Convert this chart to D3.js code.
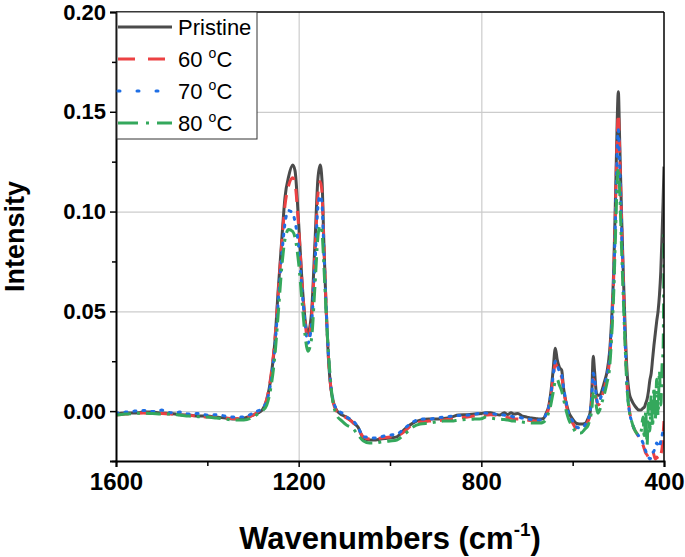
<!DOCTYPE html>
<html>
<head>
<meta charset="utf-8">
<script src="https://d3js.org/d3.v7.min.js"></script>
<style>
  body { margin: 0; background: #fff; }
  text { font-family: "Liberation Sans", Arial, sans-serif; }
</style>
</head>
<body>
<svg id="chart" width="685" height="557"></svg>
<script>
  // wavenumbers in cm-1 (descending, as plotted)
  let wavenumbers = [
    1600, 1580, 1560, 1540, 1520, 1500, 1480, 1460, 1440, 1420,
    1400, 1380, 1360, 1340, 1320, 1300, 1290, 1280, 1270, 1260,
    1252, 1245, 1237, 1230, 1222, 1213, 1208, 1200, 1193, 1186,
    1180, 1172, 1164, 1158, 1153, 1149, 1145, 1140, 1135, 1128,
    1117, 1105, 1095, 1080, 1070, 1058, 1045, 1035, 1020, 1000,
    985, 970, 950, 934, 915, 900, 883, 865, 850, 830,
    815, 800, 790, 780, 770, 760, 750, 742, 735, 728,
    720, 710, 700, 690, 680, 672, 664, 658, 653, 648,
    643, 638, 634, 629, 624, 620, 614, 609, 600, 591,
    582, 573, 566, 562, 558, 555, 552, 548, 545, 540,
    535, 530, 525, 519, 514, 510, 507, 504, 500, 497,
    493, 489, 485, 481, 476, 471, 465, 460, 455, 450,
    446, 443, 440, 437, 434, 431, 428, 425, 422, 419,
    416, 413, 410, 407, 404, 402, 400
  ];

  let pristine = [
    -0.0015, -0.001, -0.001, -0.0005, -0.0005, -0.001, -0.0012, -0.0018, -0.002, -0.0025,
    -0.0025, -0.003, -0.0035, -0.004, -0.0035, -0.002, -0.001, 0.0005, 0.0055, 0.018,
    0.035, 0.06, 0.086, 0.107, 0.1175, 0.1233, 0.1205, 0.094, 0.066, 0.046,
    0.039, 0.049, 0.086, 0.116, 0.1233, 0.116, 0.086, 0.052, 0.027, 0.009,
    0.0005, -0.002, -0.003, -0.006, -0.008, -0.0137, -0.0145, -0.0145, -0.014, -0.0135,
    -0.0129, -0.0095, -0.006, -0.0045, -0.004, -0.004, -0.0037, -0.003, -0.002, -0.0018,
    -0.0015, -0.0012, -0.0008, -0.0008, -0.0015, -0.002, -0.0008, -0.0017, -0.0008, -0.0015,
    -0.0012, -0.0025, -0.003, -0.0035, -0.0038, -0.004, -0.0037, -0.001, 0.002, 0.009,
    0.02, 0.0315, 0.026, 0.022, 0.0205, 0.0115, 0.004, -0.0003, -0.004, -0.0062,
    -0.0065, -0.0062, -0.0035, -0.001, 0.01, 0.0275, 0.02, 0.009, 0.008, 0.008,
    0.011, 0.015, 0.0195, 0.03, 0.049, 0.072, 0.099, 0.13, 0.16, 0.135,
    0.099, 0.068, 0.041, 0.02, 0.009, 0.0055, 0.003, 0.0015, 0.0005, 0.0005,
    0.0015, 0.002, 0.004, 0.006, 0.01, 0.0155, 0.019, 0.026, 0.033, 0.039,
    0.045, 0.05, 0.058, 0.07, 0.09, 0.105, 0.1225
  ];

  let t60 = [
    -0.002, -0.0015, -0.0012, -0.001, -0.0012, -0.0012, -0.0015, -0.002, -0.0022, -0.0025,
    -0.003, -0.003, -0.0035, -0.0038, -0.0035, -0.002, -0.0005, 0.001, 0.006, 0.019,
    0.036, 0.058, 0.084, 0.103, 0.113, 0.117, 0.114, 0.092, 0.066, 0.045,
    0.036, 0.046, 0.08, 0.108, 0.115, 0.11, 0.085, 0.053, 0.028, 0.009,
    0.0, -0.002, -0.0035, -0.006, -0.009, -0.013, -0.014, -0.014, -0.0135, -0.013,
    -0.0125, -0.0105, -0.0065, -0.0055, -0.005, -0.0048, -0.0045, -0.004, -0.0035, -0.003,
    -0.0025, -0.0022, -0.002, -0.0018, -0.002, -0.0025, -0.003, -0.0032, -0.0035, -0.0038,
    -0.004, -0.0042, -0.0045, -0.0048, -0.005, -0.005, -0.0042, -0.002, 0.001, 0.007,
    0.016, 0.024, 0.022, 0.019, 0.017, 0.011, 0.003, -0.002, -0.006, -0.009,
    -0.0095, -0.008, -0.005, -0.002, 0.006, 0.016, 0.014, 0.006, 0.003, 0.004,
    0.008, 0.012, 0.017, 0.026, 0.045, 0.068, 0.094, 0.125, 0.149, 0.13,
    0.096, 0.064, 0.036, 0.014, 0.001, -0.005, -0.009, -0.011, -0.013, -0.015,
    -0.017, -0.019, -0.021, -0.022, -0.023, -0.023, -0.022, -0.02, -0.022, -0.024,
    -0.023, -0.024, -0.0245, -0.022, -0.018, -0.012, -0.005
  ];

  let t70 = [
    -0.001, -0.0005, 0.0, 0.0003, -0.0002, 0.0005, -0.0008, -0.0005, -0.0015, -0.0012,
    -0.002, -0.0018, -0.0025, -0.003, -0.003, -0.001, 0.0, 0.0015, 0.005, 0.016,
    0.032, 0.054, 0.078, 0.094, 0.1005, 0.099, 0.095, 0.082, 0.062, 0.044,
    0.034, 0.043, 0.075, 0.102, 0.108, 0.104, 0.082, 0.053, 0.029, 0.01,
    0.001, -0.001, -0.003, -0.005, -0.008, -0.013, -0.013, -0.0135, -0.0128, -0.012,
    -0.0115, -0.009, -0.0055, -0.004, -0.004, -0.0035, -0.003, -0.0025, -0.0022, -0.002,
    -0.0015, -0.001, -0.001, -0.0012, -0.0015, -0.0018, -0.002, -0.0025, -0.0025, -0.003,
    -0.003, -0.0035, -0.004, -0.0042, -0.0045, -0.0045, -0.004, -0.0015, 0.0015, 0.008,
    0.017, 0.025, 0.023, 0.02, 0.018, 0.012, 0.004, -0.001, -0.005, -0.008,
    -0.0085, -0.007, -0.004, -0.001, 0.008, 0.019, 0.016, 0.007, 0.004, 0.006,
    0.009, 0.013, 0.018, 0.027, 0.046, 0.066, 0.09, 0.118, 0.141, 0.123,
    0.092, 0.062, 0.034, 0.013, 0.0, -0.005, -0.009, -0.011, -0.0125, -0.014,
    -0.016, -0.018, -0.02, -0.022, -0.023, -0.024, -0.023, -0.021, -0.02, -0.018,
    -0.016, -0.017, -0.018, -0.015, -0.012, -0.01, -0.009
  ];

  let t80 = [
    -0.002, -0.0015, -0.0012, -0.001, -0.0012, -0.0015, -0.0015, -0.002, -0.0025, -0.0028,
    -0.003, -0.0035, -0.004, -0.0045, -0.0045, -0.003, -0.0015, 0.0, 0.003, 0.013,
    0.028, 0.048, 0.072, 0.086, 0.091, 0.09, 0.087, 0.074, 0.056, 0.038,
    0.03, 0.036, 0.064, 0.087, 0.093, 0.09, 0.074, 0.05, 0.03, 0.01,
    -0.002, -0.005, -0.007, -0.009, -0.012, -0.015, -0.016, -0.016, -0.0155, -0.015,
    -0.0145, -0.012, -0.008, -0.0065, -0.006, -0.0055, -0.005, -0.005, -0.0045, -0.0042,
    -0.004, -0.0038, -0.003, -0.0035, -0.0038, -0.004, -0.0042, -0.0045, -0.0048, -0.005,
    -0.0052, -0.0055, -0.0058, -0.006, -0.006, -0.006, -0.0055, -0.004, -0.001, 0.003,
    0.009, 0.015, 0.016, 0.013, 0.01, 0.006, 0.0, -0.004, -0.008, -0.011,
    -0.011, -0.009, -0.007, -0.004, 0.001, 0.009, 0.01, 0.002, -0.001, 0.001,
    0.005, 0.009, 0.014, 0.022, 0.04, 0.06, 0.082, 0.105, 0.122, 0.11,
    0.082, 0.056, 0.032, 0.012, 0.0, -0.005, -0.009, -0.011, -0.012, -0.01,
    -0.003, -0.014, 0.0, -0.017, 0.004, -0.01, 0.008, -0.008, 0.012, -0.004,
    0.016, -0.002, 0.02, 0.003, 0.024, 0.03, 0.091
  ];

  let seriesNames = ["Pristine", "60", "70", "80"];
  let xTicks = [1600, 1200, 800, 400];
  let xMinorTicks = [1400, 1000, 600];
  let yTicks = [0, 0.05, 0.1, 0.15, 0.2];
  let yMinorTicks = [-0.025, 0.025, 0.075, 0.125, 0.175];

  // styles for each series, same order as seriesNames
  let colors = ["#4b4b4b", "#ec4143", "#1f6fe5", "#34a85c"];
  let dashes = [null, "13,9", "2,7", "15,6,3,6"];

  let svg = d3.select("#chart");
  let pLeft = 116, pRight = 664, pTop = 12, pBottom = 461;

  let x = d3.scaleLinear().domain([1600, 400]).range([pLeft, pRight]);
  let y = d3.scaleLinear().domain([-0.025, 0.2]).range([pBottom, pTop]);

  // grid
  svg.append("g")
    .attr("transform", "translate(" + pLeft + ",0)")
    .call(d3.axisLeft(y).tickValues([0, 0.05, 0.1, 0.15]).tickSize(-(pRight - pLeft)).tickFormat(""))
    .call(g => g.select(".domain").remove())
    .selectAll("line").attr("stroke", "#cccccc").attr("stroke-width", 1.2).attr("class", "grid");
  svg.append("g")
    .attr("transform", "translate(0," + pBottom + ")")
    .call(d3.axisBottom(x).tickValues([1200, 800]).tickSize(-(pBottom - pTop)).tickFormat(""))
    .call(g => g.select(".domain").remove())
    .selectAll("line").attr("stroke", "#cccccc").attr("stroke-width", 1.2).attr("class", "grid");

  // clip the spectra to the frame
  svg.append("clipPath").attr("id", "plot")
    .append("rect")
    .attr("x", pLeft).attr("y", pTop)
    .attr("width", pRight - pLeft).attr("height", pBottom - pTop);

  let line = d3.line()
    .x((d, i) => x(wavenumbers[i]))
    .y(d => y(d))
    .curve(d3.curveMonotoneX);

  let allSeries = [pristine, t60, t70, t80];
  let plot = svg.append("g").attr("clip-path", "url(#plot)");
  allSeries.forEach((s, k) => {
    plot.append("path")
      .attr("d", line(s))
      .attr("fill", "none")
      .attr("stroke", colors[k])
      .attr("stroke-width", 3)
      .attr("stroke-linejoin", "round")
      .attr("stroke-linecap", k == 2 ? "round" : "butt")
      .attr("stroke-dasharray", dashes[k]);
  });

  // frame: top and right
  svg.append("line").attr("x1", pLeft).attr("x2", pRight).attr("y1", pTop).attr("y2", pTop)
    .attr("stroke", "#000").attr("stroke-width", 1.5);
  svg.append("line").attr("x1", pRight).attr("x2", pRight).attr("y1", pTop).attr("y2", pBottom)
    .attr("stroke", "#000").attr("stroke-width", 1.5);

  // axes
  let xAxis = svg.append("g")
    .attr("transform", "translate(0," + pBottom + ")")
    .call(d3.axisBottom(x).tickValues(xTicks).tickSize(6).tickPadding(6).tickFormat(d3.format("d")));
  svg.append("g")
    .attr("transform", "translate(0," + pBottom + ")")
    .call(d3.axisBottom(x).tickValues(xMinorTicks).tickSize(5).tickFormat(""))
    .call(g => g.select(".domain").remove());
  let yAxis = svg.append("g")
    .attr("transform", "translate(" + pLeft + ",0)")
    .call(d3.axisLeft(y).tickValues(yTicks).tickSize(6).tickPadding(4).tickFormat(d3.format(".2f")));
  svg.append("g")
    .attr("transform", "translate(" + pLeft + ",0)")
    .call(d3.axisLeft(y).tickValues(yMinorTicks).tickSize(4).tickFormat(""))
    .call(g => g.select(".domain").remove());

  svg.selectAll(".domain").attr("stroke", "#000").attr("stroke-width", 2);
  svg.selectAll(".tick line:not(.grid)").attr("stroke", "#000").attr("stroke-width", 1.5);
  [xAxis, yAxis].forEach(a => a.selectAll("text")
    .attr("font-family", "'Liberation Sans', Arial, sans-serif")
    .attr("font-size", 22).attr("font-weight", "bold").attr("fill", "#000"));
  xAxis.selectAll("text").attr("font-size", 24);

  // axis titles
  svg.append("text")
    .attr("transform", "translate(24," + ((pTop + pBottom) / 2) + ") rotate(-90)")
    .attr("text-anchor", "middle")
    .attr("font-size", 27).attr("font-weight", "bold")
    .text("Intensity");
  let xt = svg.append("text")
    .attr("x", (pLeft + pRight) / 2).attr("y", 549)
    .attr("text-anchor", "middle")
    .attr("font-size", 31).attr("font-weight", "bold");
  xt.append("tspan").text("Wavenumbers (cm");
  xt.append("tspan").attr("font-size", 19).attr("dy", -13).text("-1");
  xt.append("tspan").attr("dy", 13).text(")");

  // legend
  let lg = svg.append("g");
  lg.append("rect")
    .attr("x", pLeft + 1).attr("y", pTop)
    .attr("width", 140).attr("height", 127)
    .attr("fill", "#fff").attr("stroke", "#333").attr("stroke-width", 1);
  seriesNames.forEach((name, k) => {
    let ly = 27 + k * 32;
    lg.append("line")
      .attr("x1", 118).attr("x2", 172).attr("y1", ly).attr("y2", ly)
      .attr("stroke", colors[k]).attr("stroke-width", 3)
      .attr("stroke-linecap", k == 2 ? "round" : "butt")
      .attr("stroke-dasharray", k == 0 ? null : (k == 1 ? "17,13" : (k == 2 ? "2,17" : "20,8,3,8")));
    let t = lg.append("text")
      .attr("x", 178).attr("y", ly + 8)
      .attr("font-size", 22).attr("fill", "#000");
    if (k == 0) {
      t.text(name);
    } else {
      t.append("tspan").text(name + " ");
      t.append("tspan").attr("font-size", 14).attr("dy", -9).text("o");
      t.append("tspan").attr("dy", 9).text("C");
    }
  });
</script>
</body>
</html>
